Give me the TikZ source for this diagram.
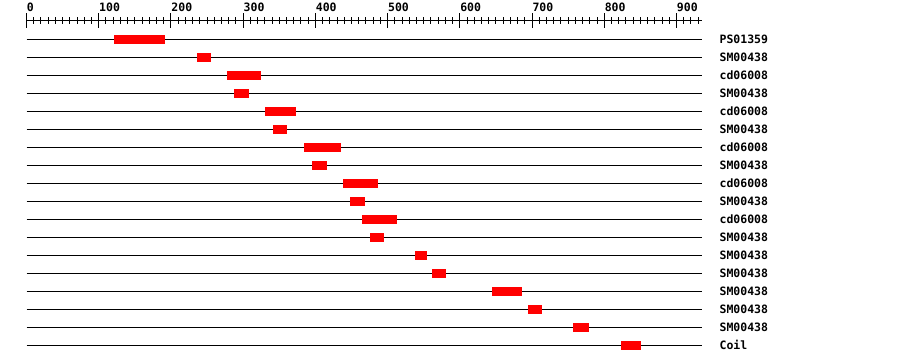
\documentclass[tikz,border=0pt]{standalone}
\usepackage{fontspec}
\setmonofont{DejaVu Sans Mono}
\definecolor{domred}{RGB}{255,0,0}
\tikzset{
	lbl/.style={font=\ttfamily\bfseries\fontsize{11.5}{12}\selectfont, inner sep=0pt},
	dom/.style={fill=domred, draw=none},
}
\begin{document}
\begin{tikzpicture}[x=1pt, y=-1pt, line width=1pt]
	\useasboundingbox (0,0) rectangle (900,364);
	\begin{scope}[xshift=26.5pt, x=0.7222pt]
	% ruler
	\draw (0,20) -- (935,20);
	\foreach \t in {0,10,...,930} \draw (\t,17) -- (\t,24);
	\foreach \t in {0,100,...,900} {
		\draw (\t,13) -- (\t,28);
		\node[lbl, anchor=base west] (tick\t) at (\t,12) {\t};
	}
	% one line per hit
	\foreach \n/\a/\b/\hit in {1/121/192/PS01359, 2/236/255/SM00438, 3/278/325/cd06008,
		4/287/308/SM00438, 5/330/373/cd06008, 6/341/361/SM00438, 7/384/435/cd06008,
		8/395/416/SM00438, 9/438/487/cd06008, 10/448/469/SM00438, 11/464/513/cd06008,
		12/476/495/SM00438, 13/538/555/SM00438, 14/561/581/SM00438, 15/645/686/SM00438,
		16/694/714/SM00438, 17/757/779/SM00438, 18/823/851/Coil} {
		\draw (0,21+18*\n) -- (935,21+18*\n);
		\fill[dom] (\a,16.5+18*\n) rectangle (\b,25.5+18*\n);
		\node[lbl, anchor=west] (row\n) at (959,21+18*\n) {\hit};
	}
	\end{scope}
\end{tikzpicture}
\end{document}
